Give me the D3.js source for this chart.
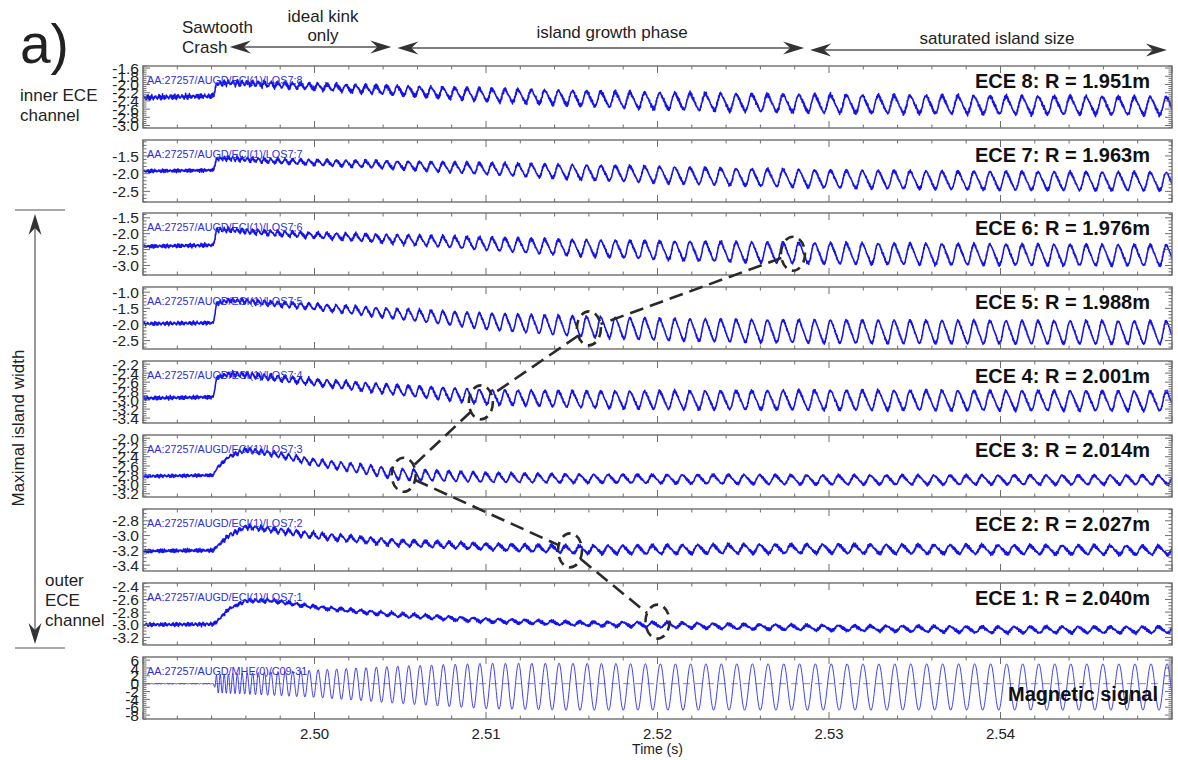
<!DOCTYPE html>
<html><head><meta charset="utf-8">
<script src="https://cdn.jsdelivr.net/npm/d3@7"></script>
<style>
body{margin:0;background:#fff}
svg{display:block;font-family:Arial,"Liberation Sans",sans-serif}
</style>
</head><body>
<svg id="chart" width="1178" height="760"></svg>
<script>
// ---------------- DATA ----------------
const timeDomain = [2.490, 2.550];
const xTickLabels = ["2.50", "2.51", "2.52", "2.53", "2.54"];
const xTickValues = [2.50, 2.51, 2.52, 2.53, 2.54];

const knotTimes = [2.490, 2.4941, 2.4943, 2.4950, 2.4960, 2.4975, 2.500, 2.505, 2.510, 2.515, 2.520, 2.525, 2.530, 2.540, 2.550];
// mode frequency (kHz) read from the cycle spacing of the magnetic signal
const modeFreqKHz = [4.5, 4.5, 4.5, 4.0, 3.3, 2.5, 1.9, 1.55, 1.35, 1.22, 1.14, 1.10, 1.08, 1.07, 1.07];

const channelLabels = ["ECE 8: R = 1.951m","ECE 7: R = 1.963m","ECE 6: R = 1.976m","ECE 5: R = 1.988m",
                       "ECE 4: R = 2.001m","ECE 3: R = 2.014m","ECE 2: R = 2.027m","ECE 1: R = 2.040m","Magnetic signal"];
const signalIds = ["AA:27257/AUGD/ECI(1)/LOS7;8","AA:27257/AUGD/ECI(1)/LOS7;7","AA:27257/AUGD/ECI(1)/LOS7;6",
                   "AA:27257/AUGD/ECI(1)/LOS7;5","AA:27257/AUGD/ECI(1)/LOS7;4","AA:27257/AUGD/ECI(1)/LOS7;3",
                   "AA:27257/AUGD/ECI(1)/LOS7;2","AA:27257/AUGD/ECI(1)/LOS7;1","AA:27257/AUGD/MHE(0)/C09-31"];

// mean level of each trace at the knot times
const ece8Mean = [-2.32,-2.28,-1.98,-1.96,-1.97,-2.00,-2.05,-2.15,-2.25,-2.33,-2.40,-2.44,-2.47,-2.50,-2.52];
const ece7Mean = [-1.93,-1.90,-1.58,-1.57,-1.60,-1.64,-1.68,-1.76,-1.86,-1.95,-2.03,-2.10,-2.15,-2.20,-2.22];
const ece6Mean = [-2.40,-2.36,-1.88,-1.88,-1.93,-1.98,-2.05,-2.18,-2.32,-2.44,-2.52,-2.58,-2.62,-2.66,-2.68];
const ece5Mean = [-1.98,-1.95,-1.35,-1.25,-1.28,-1.35,-1.45,-1.68,-1.90,-2.05,-2.15,-2.20,-2.22,-2.24,-2.25];
const ece4Mean = [-2.96,-2.93,-2.50,-2.42,-2.44,-2.50,-2.60,-2.78,-2.93,-2.98,-3.00,-3.00,-3.00,-3.01,-3.02];
const ece3Mean = [-2.82,-2.80,-2.65,-2.40,-2.25,-2.33,-2.52,-2.78,-2.85,-2.87,-2.88,-2.89,-2.90,-2.90,-2.90];
const ece2Mean = [-3.21,-3.20,-3.15,-3.00,-2.88,-2.92,-3.00,-3.10,-3.15,-3.19,-3.19,-3.18,-3.18,-3.19,-3.20];
const ece1Mean = [-3.00,-2.99,-2.95,-2.75,-2.62,-2.62,-2.72,-2.85,-2.93,-2.98,-3.00,-3.03,-3.05,-3.08,-3.08];
const magMean  = [0,0,0,0,0,0,0,-0.3,-0.6,-0.8,-0.85,-0.85,-0.85,-0.85,-0.85];

// oscillation amplitude of each trace at the knot times
const ece8Amp = [0.02,0.02,0.04,0.05,0.05,0.06,0.07,0.11,0.15,0.18,0.20,0.21,0.22,0.22,0.22];
const ece7Amp = [0.02,0.02,0.04,0.05,0.05,0.06,0.07,0.11,0.16,0.20,0.23,0.24,0.25,0.26,0.26];
const ece6Amp = [0.02,0.02,0.05,0.05,0.06,0.07,0.08,0.14,0.20,0.25,0.29,0.32,0.33,0.33,0.33];
const ece5Amp = [0.02,0.02,0.04,0.05,0.06,0.07,0.09,0.16,0.25,0.31,0.34,0.35,0.36,0.36,0.36];
const ece4Amp = [0.02,0.02,0.03,0.04,0.05,0.06,0.07,0.11,0.16,0.18,0.20,0.21,0.22,0.22,0.22];
const ece3Amp = [0.01,0.01,0.02,0.03,0.04,0.05,0.07,0.12,0.10,0.09,0.09,0.10,0.10,0.10,0.10];
const ece2Amp = [0.01,0.01,0.01,0.02,0.02,0.03,0.04,0.04,0.04,0.05,0.06,0.06,0.06,0.06,0.06];
const ece1Amp = [0.01,0.01,0.01,0.01,0.02,0.02,0.02,0.03,0.03,0.03,0.04,0.04,0.04,0.05,0.05];
const magAmp  = [0.05,0.05,2.4,2.5,2.7,3.0,3.5,4.8,5.8,6.0,5.9,5.9,5.9,5.9,5.9];

// fuzz (noise band half-width) of each trace
const noiseLevels = [0.07,0.06,0.07,0.06,0.05,0.04,0.032,0.032,0.05];
// phase inversion across the island
const phaseFlip = [0,0,0,0,0,1,1,1,0];

// y axes
const yDomains = [[-3.06,-1.55],[-2.80,-1.05],[-3.30,-1.35],[-2.76,-0.84],[-3.51,-2.13],[-3.27,-1.93],[-3.48,-2.64],[-3.32,-2.34],[-9.0,6.8]];
const yTicks = [
  [-1.6,-1.8,-2.0,-2.2,-2.4,-2.6,-2.8,-3.0],
  [-1.5,-2.0,-2.5],
  [-1.5,-2.0,-2.5,-3.0],
  [-1.0,-1.5,-2.0,-2.5],
  [-2.2,-2.4,-2.6,-2.8,-3.0,-3.2,-3.4],
  [-2.0,-2.2,-2.4,-2.6,-2.8,-3.0,-3.2],
  [-2.8,-3.0,-3.2,-3.4],
  [-2.4,-2.6,-2.8,-3.0,-3.2],
  [6,4,2,0,-2,-4,-6,-8]
];
const yMinorStep = [0.05,0.1,0.1,0.1,0.05,0.05,0.05,0.05,0.5];

// island markers (dashed ellipses): panel index, time, value
const islandPanels = [2,3,4,5,6,7];
const islandTimes  = [2.5279,2.5160,2.5097,2.5052,2.5149,2.5200];
const islandValues = [-2.63,-2.12,-3.05,-2.79,-3.20,-2.95];

// phase annotations (time spans)
const phaseNames = ["ideal kink only","island growth phase","saturated island size"];
const phaseStart = [2.49506, 2.50483, 2.5289];
const phaseEnd   = [2.50448, 2.52855, 2.5497];

// ---------------- LAYOUT ----------------
const svg = d3.select("#chart");
const L = 143, R = 1172, PH = 62;
const panelTops = [66,140,213,287,361,435,509,583,657];
const x = d3.scaleLinear().domain(timeDomain).range([L, R]);

const means = [ece8Mean,ece7Mean,ece6Mean,ece5Mean,ece4Mean,ece3Mean,ece2Mean,ece1Mean,magMean];
const amps  = [ece8Amp,ece7Amp,ece6Amp,ece5Amp,ece4Amp,ece3Amp,ece2Amp,ece1Amp,magAmp];

const N = 2800;
const dt = (timeDomain[1]-timeDomain[0])/(N-1);
const fS = d3.scaleLinear().domain(knotTimes).range(modeFreqKHz).clamp(true);
const phase = []; let ph = 0;
for (let i=0;i<N;i++){ const t = timeDomain[0]+i*dt; phase.push(ph); ph += 2*Math.PI*fS(t)*1000*dt; }

const defs = svg.append("defs");
const yScales = [];

panelTops.forEach((pTop, p) => {
  const y = d3.scaleLinear().domain(yDomains[p]).range([pTop+PH, pTop]);
  yScales.push(y);
  const g = svg.append("g");
  defs.append("clipPath").attr("id","cl"+p).append("rect")
     .attr("x",L).attr("y",pTop).attr("width",R-L).attr("height",PH);

  if (p===8){
    g.append("line").attr("x1",L).attr("x2",R).attr("y1",y(0)).attr("y2",y(0))
     .attr("stroke","#888").attr("stroke-width",1).attr("stroke-dasharray","7,5");
  }

  const mS = d3.scaleLinear().domain(knotTimes).range(means[p]).clamp(true);
  const aS = d3.scaleLinear().domain(knotTimes).range(amps[p]).clamp(true);
  const off = phaseFlip[p] ? Math.PI : 0;
  const shape = p===8 ? 0 : 0.18;
  const nz = noiseLevels[p];
  const pts = [];
  for (let i=0;i<N;i++){
    const t = timeDomain[0]+i*dt;
    const f = phase[i]+off;
    const w = (Math.sin(f) + shape*Math.sin(2*f))/(1+shape*0.5);
    const rip = 0.45*Math.sin(i*2.39996) + 0.3*Math.sin(i*3.7+p) + 0.15*Math.sin(i*0.613+2*p) + 0.1*Math.sin(i*1.318+3*p);
    pts.push([t, mS(t) + aS(t)*w + (p===8 ? (t<2.4942 ? 0.02 : 0.05) : nz)*rip]);
  }
  g.append("path").attr("clip-path","url(#cl"+p+")")
    .attr("d", d3.line().x(d=>x(d[0])).y(d=>y(d[1]))(pts))
    .attr("fill","none").attr("stroke", p===8 ? "#3535f0" : "#1414ea")
    .attr("stroke-width", p===8 ? 0.95 : 1.55).attr("stroke-linejoin","round");

  g.append("rect").attr("x",L).attr("y",pTop).attr("width",R-L).attr("height",PH)
    .attr("fill","none").attr("stroke","#6e6e6e").attr("stroke-width",1.4);

  const ticks = g.append("g").attr("stroke","#6e6e6e").attr("stroke-width",1);
  d3.range(0, 31).forEach(k => {
    const t = timeDomain[0] + k*0.002;
    const major = k%5===0;
    const len = major ? 7 : 3.5;
    const xx = x(t);
    ticks.append("line").attr("x1",xx).attr("x2",xx).attr("y1",pTop+PH).attr("y2",pTop+PH-len);
    ticks.append("line").attr("x1",xx).attr("x2",xx).attr("y1",pTop).attr("y2",pTop+len);
  });
  const d0 = yDomains[p][0], d1 = yDomains[p][1], st = yMinorStep[p];
  for (let v = Math.ceil(d0/st-1e-6)*st; v <= d1+1e-9; v += st){
    const isMajor = yTicks[p].some(tv => Math.abs(tv - v) < 1e-6);
    const len = isMajor ? 7 : 3.5;
    const yy = y(v);
    ticks.append("line").attr("x1",L).attr("x2",L+len).attr("y1",yy).attr("y2",yy);
    ticks.append("line").attr("x1",R).attr("x2",R-len).attr("y1",yy).attr("y2",yy);
  }
  g.selectAll("text.yl").data(yTicks[p]).enter().append("text")
    .attr("x",139).attr("y",d=>y(d)).attr("dy","0.36em")
    .attr("text-anchor","end").attr("font-size",15.5).attr("fill","#222")
    .text(d => p===8 ? String(d) : d.toFixed(1));

  g.append("text").attr("x",147).attr("y",pTop+18).attr("font-size",10.8)
    .attr("fill","#2d2de0").text(signalIds[p]);
  g.append("text").attr("x", p===8 ? 1158 : 1150).attr("y", p===8 ? pTop+44 : pTop+22)
    .attr("text-anchor","end").attr("font-weight","bold")
    .attr("font-size", 20).attr("fill","#111").text(channelLabels[p]);
});

svg.append("g").selectAll("text").data(xTickValues).enter().append("text")
  .attr("x", d=>x(d)).attr("y", 739).attr("text-anchor","middle")
  .attr("font-size",15).attr("fill","#222").text((d,i)=>xTickLabels[i]);
svg.append("text").attr("x", x(2.52)).attr("y",754).attr("text-anchor","middle")
  .attr("font-size",14).attr("fill","#222").text("Time (s)");

const rx = 12, ry = 17;
const centers = islandPanels.map((p,i)=>[x(islandTimes[i]), yScales[p](islandValues[i])]);
const ann = svg.append("g").attr("stroke","#2a2a2a").attr("fill","none").attr("stroke-width",2.6);
centers.forEach(c => ann.append("ellipse").attr("cx",c[0]).attr("cy",c[1]).attr("rx",rx).attr("ry",ry)
  .attr("stroke-dasharray","9,6"));
for (let i=0;i<centers.length-1;i++){
  const a = centers[i], b = centers[i+1];
  const dx = b[0]-a[0], dy = b[1]-a[1];
  const tt = 1/Math.sqrt((dx/rx)**2 + (dy/ry)**2);
  ann.append("line").attr("x1",a[0]+dx*tt).attr("y1",a[1]+dy*tt)
     .attr("x2",b[0]-dx*tt).attr("y2",b[1]-dy*tt).attr("stroke-dasharray","14,7");
}

function headH(g, tip, yy, dir){
  g.append("path").attr("d",`M${tip},${yy} L${tip-dir*21},${yy-6.5} L${tip-dir*14},${yy} L${tip-dir*21},${yy+6.5} Z`)
   .attr("fill","#333");
}
function headV(g, xx, tip, dir){
  g.append("path").attr("d",`M${xx},${tip} L${xx-6.5},${tip-dir*21} L${xx},${tip-dir*14} L${xx+6.5},${tip-dir*21} Z`)
   .attr("fill","#333");
}
const annTop = svg.append("g");
const arrowY = [47, 48, 50];
phaseStart.forEach((s,i)=>{
  const x1 = x(s), x2 = x(phaseEnd[i]);
  annTop.append("line").attr("x1",x1+10).attr("x2",x2-10).attr("y1",arrowY[i]).attr("y2",arrowY[i])
     .attr("stroke","#555").attr("stroke-width",1.3);
  headH(annTop, x1, arrowY[i], -1);
  headH(annTop, x2, arrowY[i], 1);
});
const txt = (s, xx, yy, opt={}) => svg.append("text").attr("x",xx).attr("y",yy)
   .attr("font-size",opt.size||17).attr("fill","#222").attr("text-anchor",opt.anchor||"start").text(s);
txt("a)", 20, 63, {size:55});
txt("Sawtooth", 182, 33);
txt("Crash", 182, 53);
txt("ideal kink", 323, 22, {anchor:"middle"});
txt("only", 323, 41, {anchor:"middle"});
txt(phaseNames[1], 612, 38, {anchor:"middle"});
txt(phaseNames[2], 997, 44, {anchor:"middle"});
txt("inner ECE", 20, 101, {size:17});
txt("channel", 20, 121, {size:17});
txt("outer", 45, 586, {size:17});
txt("ECE", 45, 606, {size:17});
txt("channel", 45, 626, {size:17});
svg.append("text").attr("transform","translate(24,428) rotate(-90)").attr("text-anchor","middle")
   .attr("font-size",17).attr("fill","#222").text("Maximal island width");

const va = svg.append("g");
va.append("line").attr("x1",15).attr("x2",65).attr("y1",210).attr("y2",210).attr("stroke","#555").attr("stroke-width",1.2);
va.append("line").attr("x1",15).attr("x2",65).attr("y1",648).attr("y2",648).attr("stroke","#555").attr("stroke-width",1.2);
va.append("line").attr("x1",35).attr("x2",35).attr("y1",225).attr("y2",633).attr("stroke","#555").attr("stroke-width",1.2);
headV(va, 35, 214, -1);
headV(va, 35, 644, 1);
</script>
</body></html>
